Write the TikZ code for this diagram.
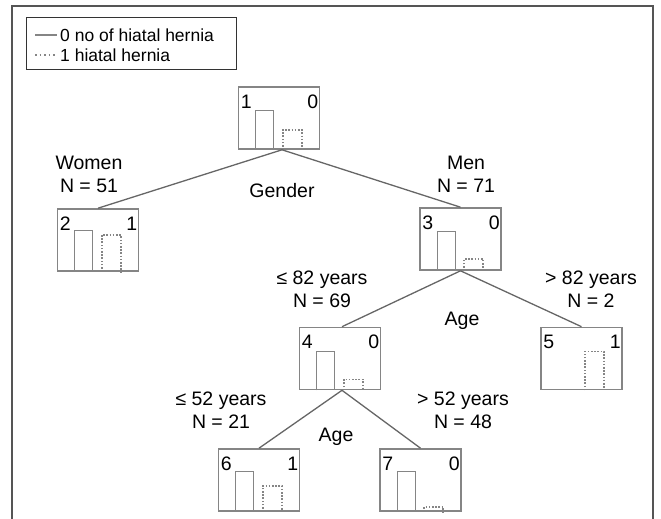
\documentclass[tikz,border=0pt]{standalone}
\usepackage{fontspec}
\setmainfont{Liberation Sans}
\usetikzlibrary{calc}
\definecolor{boxgray}{HTML}{858585}
\definecolor{edgegray}{HTML}{666666}
\definecolor{framegray}{HTML}{555555}
\newcommand\mybars[3]{%
  \draw[solidbar] ($(#1.south west)+(18,0)$) -- ++(0,-#2) -- ++(18,0) -- ++(0,#2);
  \draw[dotbar] ($(#1.south west)+(45,0)$) -- ++(0,-#3) -- ++(19,0) -- ++(0,#3);}
\begin{document}
\begin{tikzpicture}[x=1pt,y=-1pt,
  treebox/.style={draw=boxgray, line width=1.6pt, minimum width=81pt, minimum height=62pt, inner sep=0pt},
  edge/.style={draw=edgegray, line width=1.3pt},
  lbl/.style={font=\fontsize{19.5}{22.5}\selectfont, align=center, inner sep=0pt, anchor=base},
  num/.style={font=\fontsize{19.5}{22}\selectfont, inner sep=0pt},
  legtext/.style={font=\fontsize{17.5}{20}\selectfont, inner sep=0pt, anchor=base west},
  solidbar/.style={draw=boxgray, line width=1.3pt},
  dotbar/.style={draw=boxgray, line width=1.6pt, dash pattern=on 1.6pt off 1.6pt}]
\useasboundingbox (0,0) rectangle (661,519);
% outer frame
\draw[framegray, line width=1.8pt] (12,519) -- (12,6) -- (653,6) -- (653,519);
% legend
\node[draw=black!80, line width=1pt, minimum width=210pt, minimum height=52pt, inner sep=0pt] (legend) at (131,44) {};
\node[legtext] (leg0) at (60,42) {0 no of hiatal hernia};
\node[legtext] (leg1) at (60,62) {1 hiatal hernia};
\draw[boxgray, line width=1.2pt] ($(leg0.base west)+(-25,-7)$) -- ++(22,0);
\draw[boxgray, line width=1.3pt, dash pattern=on 1.5pt off 3pt] ($(leg1.base west)+(-25,-7)$) -- ++(22,0);
% tree boxes
\node[treebox] (n1) at (279,118) {};
\node[treebox] (n2) at (98,240) {};
\node[treebox] (n3) at (460.5,239) {};
\node[treebox] (n4) at (340,358.5) {};
\node[treebox] (n5) at (581.5,358.5) {};
\node[treebox] (n6) at (259,480) {};
\node[treebox] (n7) at (420.5,480) {};
% numbers
\foreach \n/\a/\b in {n1/1/0, n2/2/1, n3/3/0, n4/4/0, n5/5/1, n6/6/1, n7/7/0}{
  \node[num, anchor=base west] at ($(\n.north west)+(3,22)$) {\a};
  \node[num, anchor=base east] at ($(\n.north east)+(-2,22)$) {\b};
}
% bars
\mybars{n1}{39}{20}
\mybars{n2}{41}{37}
\mybars{n3}{39}{12}
\mybars{n4}{39}{11}
\draw[dotbar] ($(n5.south west)+(45,0)$) -- ++(0,-39) -- ++(19,0) -- ++(0,39);
\mybars{n6}{40}{26}
\mybars{n7}{40}{5}
% edges
\draw[edge] ($(n1.south)+(3,0)$) -- (n2.north);
\draw[edge] ($(n1.south)+(3,0)$) -- (n3.north);
\draw[edge] (n3.south) -- ($(n4.north)+(2,0)$);
\draw[edge] (n3.south) -- (n5.north);
\draw[edge] ($(n4.south)+(2,0)$) -- (n6.north);
\draw[edge] ($(n4.south)+(2,0)$) -- (n7.north);
% labels
\node[lbl] (women) at (89,192) {Women\\N = 51};
\node[lbl] (men) at (466,192) {Men\\N = 71};
\node[lbl] (gender) at (282,197) {Gender};
\node[lbl] (le82) at (322,307) {≤ 82 years\\N = 69};
\node[lbl] (age1) at (462,325) {Age};
\node[lbl] (gt82) at (591,307) {> 82 years\\N = 2};
\node[lbl] (le52) at (221,428) {≤ 52 years\\N = 21};
\node[lbl] (age2) at (336,441) {Age};
\node[lbl] (gt52) at (463,428) {> 52 years\\N = 48};
\end{tikzpicture}
\end{document}
